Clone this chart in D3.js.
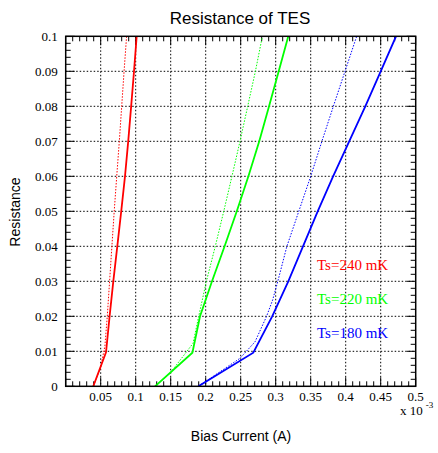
<!DOCTYPE html>
<html lang="en">
<head>
<meta charset="UTF-8">
<title>Resistance of TES</title>
<style>
    body { margin: 0; background: #fff; }
    svg { display: block; }
</style>
</head>
<body>
<div id="chart"></div>
<script src="https://d3js.org/d3.v7.min.js"></script>
<script>
    // bias current in units of 1e-3 A, resistance in ohm
    const redSolidI = [0.0394, 0.0576, 0.0627, 0.068, 0.0737, 0.0793, 0.0847, 0.0893, 0.0935, 0.0976, 0.1014];
    const redSolidR = [0, 0.0097, 0.02, 0.03, 0.04, 0.05, 0.06, 0.07, 0.08, 0.09, 0.1];
    const redDotI = [0.0394, 0.05, 0.056, 0.0594, 0.0627, 0.066, 0.0693, 0.0729, 0.0766, 0.08, 0.0834, 0.087];
    const redDotR = [0, 0.0055, 0.0115, 0.02, 0.03, 0.04, 0.05, 0.06, 0.07, 0.08, 0.09, 0.1];

    const greenSolidI = [0.1276, 0.181, 0.1919, 0.209, 0.227, 0.2444, 0.261, 0.2765, 0.2905, 0.3043, 0.318];
    const greenSolidR = [0, 0.0096, 0.02, 0.03, 0.04, 0.05, 0.06, 0.07, 0.08, 0.09, 0.1];
    const greenDotI = [0.1276, 0.149, 0.182, 0.19, 0.201, 0.2137, 0.2258, 0.2375, 0.249, 0.26, 0.271, 0.281];
    const greenDotR = [0, 0.0037, 0.0123, 0.02, 0.03, 0.04, 0.05, 0.06, 0.07, 0.08, 0.09, 0.1];

    const blueSolidI = [0.1895, 0.268, 0.295, 0.318, 0.339, 0.36, 0.382, 0.405, 0.428, 0.45, 0.4719];
    const blueSolidR = [0, 0.0096, 0.02, 0.03, 0.04, 0.05, 0.06, 0.07, 0.08, 0.09, 0.1];
    const blueDotI = [0.1895, 0.249, 0.2704, 0.287, 0.2957, 0.303, 0.316, 0.333, 0.35, 0.366, 0.3824, 0.399, 0.4157];
    const blueDotR = [0, 0.008, 0.0127, 0.02, 0.0247, 0.03, 0.04, 0.05, 0.06, 0.07, 0.08, 0.09, 0.1];

    const labelText = ["Ts=240 mK", "Ts=220 mK", "Ts=180 mK"];
    const labelI = [0.359, 0.359, 0.359];
    const labelR = [0.0332, 0.0234, 0.0137];
    const seriesColors = ["#ff0000", "#00ff00", "#0000ff"];

    const xTicks = [0.05, 0.1, 0.15, 0.2, 0.25, 0.3, 0.35, 0.4, 0.45, 0.5];
    const yTicks = [0, 0.01, 0.02, 0.03, 0.04, 0.05, 0.06, 0.07, 0.08, 0.09, 0.1];

    const width = 438, height = 453;
    const margin = {top: 36.3, right: 22.3, bottom: 66.7, left: 65.7};
    const iw = width - margin.left - margin.right;
    const ih = height - margin.top - margin.bottom;

    const x = d3.scaleLinear().domain([0, 0.5]).range([0, iw]);
    const y = d3.scaleLinear().domain([0, 0.1]).range([ih, 0]);

    const svg = d3.select("#chart").append("svg")
        .attr("width", width)
        .attr("height", height);

    svg.append("defs").append("clipPath").attr("id", "frame")
        .append("rect").attr("width", iw).attr("height", ih);

    const g = svg.append("g").attr("transform", `translate(${margin.left},${margin.top})`);

    // dotted grid
    const grid = g.append("g").attr("stroke", "#000").attr("stroke-width", 1)
        .attr("stroke-dasharray", "1.5,2");
    grid.selectAll(".gx").data(xTicks.slice(0, -1)).enter().append("line")
        .attr("x1", d => x(d)).attr("x2", d => x(d))
        .attr("y1", 0).attr("y2", ih);
    grid.selectAll(".gy").data(yTicks.slice(1, -1)).enter().append("line")
        .attr("x1", 0).attr("x2", iw)
        .attr("y1", d => y(d)).attr("y2", d => y(d));

    // ticks on all four sides, pointing inward
    const minorX = d3.range(0, 51).map(i => i * 0.01);
    const minorY = d3.range(0, 51).map(i => i * 0.002);
    const isMajor = (v, step) => Math.abs(v / step - Math.round(v / step)) < 1e-6;

    const tk = g.append("g").attr("stroke", "#000").attr("stroke-width", 1);
    minorX.forEach(v => {
        const len = isMajor(v, 0.05) ? 9 : 5;
        tk.append("line").attr("x1", x(v)).attr("x2", x(v)).attr("y1", ih).attr("y2", ih - len);
        tk.append("line").attr("x1", x(v)).attr("x2", x(v)).attr("y1", 0).attr("y2", len);
    });
    minorY.forEach(v => {
        const len = isMajor(v, 0.01) ? 9 : 5;
        tk.append("line").attr("x1", 0).attr("x2", len).attr("y1", y(v)).attr("y2", y(v));
        tk.append("line").attr("x1", iw).attr("x2", iw - len).attr("y1", y(v)).attr("y2", y(v));
    });

    // curves
    const line = d3.line().x(d => x(d[0])).y(d => y(d[1]));
    const curves = [
        {i: redSolidI, r: redSolidR, c: 0, dot: false},
        {i: redDotI, r: redDotR, c: 0, dot: true},
        {i: greenSolidI, r: greenSolidR, c: 1, dot: false},
        {i: greenDotI, r: greenDotR, c: 1, dot: true},
        {i: blueSolidI, r: blueSolidR, c: 2, dot: false},
        {i: blueDotI, r: blueDotR, c: 2, dot: true}
    ];
    const plot = g.append("g").attr("clip-path", "url(#frame)");
    curves.forEach(s => {
        plot.append("path")
            .datum(d3.zip(s.i, s.r))
            .attr("d", line)
            .attr("fill", "none")
            .attr("stroke", seriesColors[s.c])
            .attr("stroke-width", s.dot ? 1 : 1.8)
            .attr("stroke-dasharray", s.dot ? "1.5,1.5" : null);
    });

    // frame
    g.append("rect").attr("width", iw).attr("height", ih)
        .attr("fill", "none").attr("stroke", "#000").attr("stroke-width", 1.5);

    // tick labels
    g.selectAll(".xl").data(xTicks).enter().append("text")
        .attr("x", d => x(d)).attr("y", ih + 15)
        .attr("text-anchor", "middle")
        .style("font", "13px 'Liberation Serif', serif")
        .text(d => d3.format("~g")(d));
    g.selectAll(".yl").data(yTicks).enter().append("text")
        .attr("x", -8).attr("y", d => y(d)).attr("dy", "0.35em")
        .attr("text-anchor", "end")
        .style("font", "13px 'Liberation Serif', serif")
        .text(d => d3.format("~g")(d));

    // exponent
    const ex = svg.append("text").attr("x", 400).attr("y", 415)
        .style("font", "13px 'Liberation Serif', serif");
    ex.append("tspan").text("x 10");
    ex.append("tspan").attr("dx", 3).attr("dy", -7).style("font-size", "9px").text("-3");

    // annotations
    g.selectAll(".lab").data(labelText).enter().append("text")
        .attr("x", (d, i) => x(labelI[i]))
        .attr("y", (d, i) => y(labelR[i]))
        .attr("fill", (d, i) => seriesColors[i])
        .style("font", "15px 'Liberation Serif', serif")
        .text(d => d);

    // titles
    svg.append("text").attr("x", 240).attr("y", 24)
        .attr("text-anchor", "middle")
        .style("font", "17px 'Liberation Sans', Arial, sans-serif")
        .text("Resistance of TES");
    svg.append("text").attr("x", 241).attr("y", 441)
        .attr("text-anchor", "middle")
        .style("font", "14px 'Liberation Sans', Arial, sans-serif")
        .text("Bias Current (A)");
    svg.append("text")
        .attr("transform", "translate(20,212) rotate(-90)")
        .attr("text-anchor", "middle")
        .style("font", "14px 'Liberation Sans', Arial, sans-serif")
        .text("Resistance");
</script>
</body>
</html>
